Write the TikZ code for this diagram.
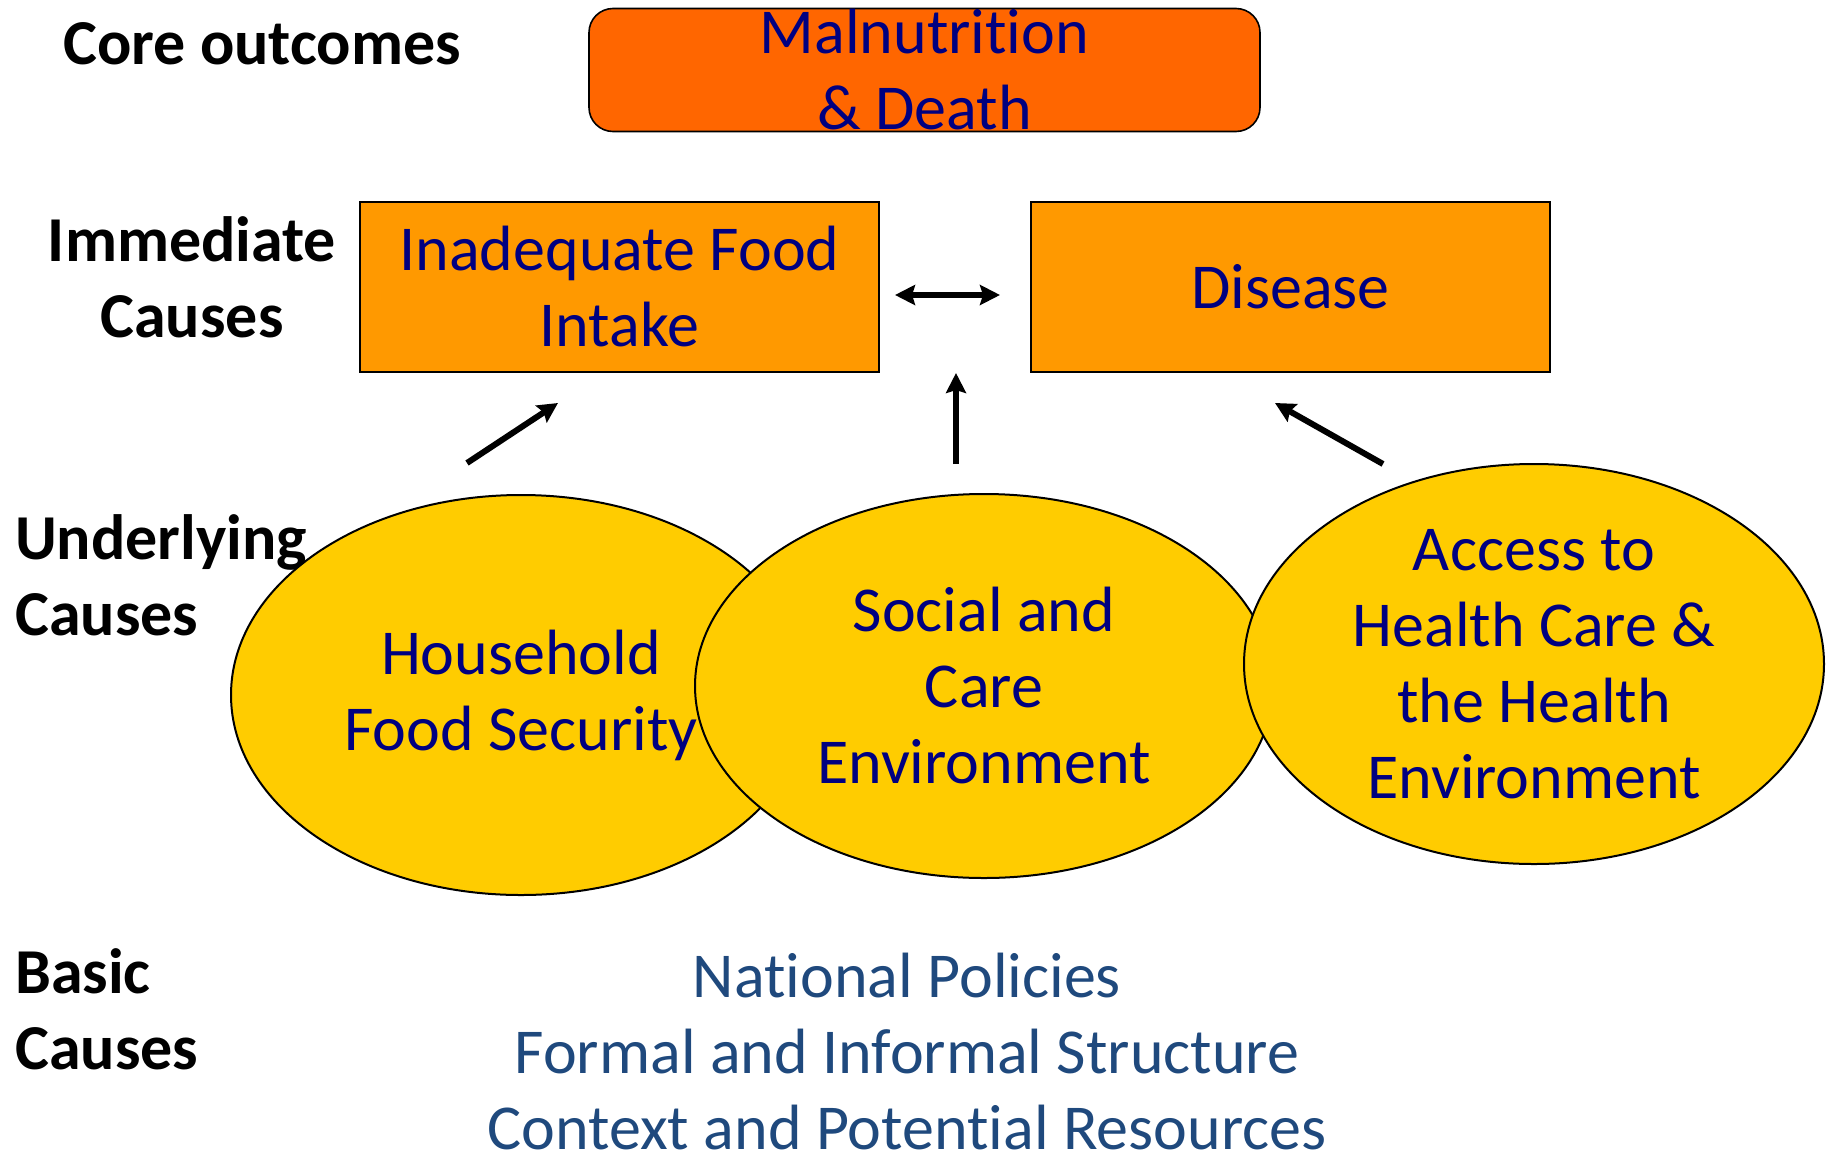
\documentclass[tikz,border=0pt]{standalone}
\usepackage{fontspec}
\setmainfont[Ligatures=NoCommon]{Carlito}
\usetikzlibrary{shapes.geometric,arrows.meta}

\definecolor{outcome}{RGB}{255,102,0}
\definecolor{immediate}{RGB}{255,153,0}
\definecolor{underlying}{RGB}{255,204,0}
\definecolor{navytext}{RGB}{0,0,128}
\definecolor{basictext}{RGB}{31,73,125}

\tikzset{
  bigfont/.style={font=\fontsize{64}{76}\selectfont},
  levellabel/.style={font=\fontsize{64}{76}\selectfont\bfseries, text=black, inner sep=0pt},
  outcomebox/.style={draw=black, line width=1.6pt, fill=outcome, rounded corners=24pt,
    minimum width=671pt, minimum height=123pt, inner sep=0pt, text=navytext, align=center, bigfont},
  causebox/.style={draw=black, line width=1.6pt, fill=immediate,
    minimum width=519pt, minimum height=170pt, inner sep=0pt, text=navytext, align=center, bigfont},
  causeellipse/.style={ellipse, draw=black, line width=2pt, fill=underlying,
    inner sep=0pt, text=navytext, align=center, bigfont},
  headtip/.tip={Stealth[length=20pt,width=20pt,inset=3pt]},
  linkarrow/.style={line width=6pt, -headtip},
  bothways/.style={line width=6pt, headtip-headtip}
}

\begin{document}
\begin{tikzpicture}[x=1pt, y=-1pt]
  \useasboundingbox (0,0) rectangle (1833,1154);

  % level labels on the left
  \node[levellabel, anchor=base west] (lblcore) at (63,64) {Core outcomes};
  \node[levellabel, align=center] (lblimm) at (192,277) {Immediate\\Causes};
  \node[levellabel, align=left, anchor=west] (lblund) at (15,575) {Underlying\\Causes};
  \node[levellabel, align=left, anchor=west] (lblbas) at (15,1009) {Basic\\Causes};

  % core outcome
  \node[outcomebox] (outcome) at (924.5,70) {Malnutrition\\\& Death};

  % immediate causes
  \node[causebox] (food) at (619.5,287) {Inadequate Food\\Intake};
  \node[causebox] (disease) at (1290.5,287) {Disease};

  % underlying causes
  \node[causeellipse, minimum width=580pt, minimum height=400pt] (household) at (521,695)
    {Household\\Food Security};
  \node[causeellipse, minimum width=578pt, minimum height=384pt] (social) at (984,686)
    {Social and\\Care\\Environment};
  \node[causeellipse, minimum width=580pt, minimum height=400pt] (access) at (1534,664)
    {Access to\\Health Care \&\\the Health\\Environment};

  % basic causes
  \node[bigfont, text=basictext, align=center, inner sep=0pt] (basic) at (907,1051)
    {National Policies\\Formal and Informal Structure\\Context and Potential Resources};

  % arrow end points
  \coordinate (hsfrom) at (467,463);
  \coordinate (hsto) at (558,403);
  \coordinate (scfrom) at (956,464);
  \coordinate (scto) at (956,373);
  \coordinate (acfrom) at (1383,464);
  \coordinate (acto) at (1275,403);
  \coordinate (fdleft) at (895,295);
  \coordinate (fdright) at (1000,295);

  \draw[linkarrow] (hsfrom) -- (hsto);
  \draw[linkarrow] (scfrom) -- (scto);
  \draw[linkarrow] (acfrom) -- (acto);
  \draw[bothways] (fdleft) -- (fdright);
\end{tikzpicture}
\end{document}
